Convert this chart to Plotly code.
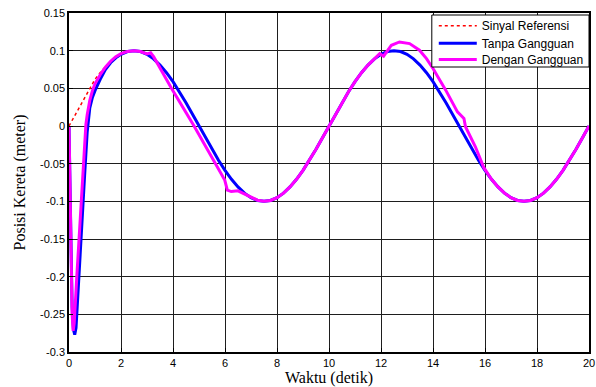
import plotly.graph_objects as go

# ---------------- data ----------------
x_ticks = [0, 2, 4, 6, 8, 10, 12, 14, 16, 18, 20]
x_tick_labels = ["0", "2", "4", "6", "8", "10", "12", "14", "16", "18", "20"]
y_ticks = [0.15, 0.1, 0.05, 0, -0.05, -0.1, -0.15, -0.2, -0.25, -0.3]
y_tick_labels = ["0.15", "0.1", "0.05", "0", "-0.05", "-0.1", "-0.15", "-0.2", "-0.25", "-0.3"]

names = ["Sinyal Referensi", "Tanpa Gangguan", "Dengan Gangguan"]

# Sinyal Referensi
t_ref = [0, 0.25, 0.5, 0.75, 1.0, 1.25, 1.5, 1.75, 2.0, 2.25, 2.5, 2.75, 3.0, 3.25, 3.5, 3.75,
         4.0, 4.25, 4.5, 4.75, 5.0, 5.25, 5.5, 5.75, 6.0, 6.25, 6.5, 6.75, 7.0, 7.25, 7.5, 7.75,
         8.0, 8.25, 8.5, 8.75, 9.0, 9.25, 9.5, 9.75, 10.0, 10.25, 10.5, 10.75, 11.0, 11.25, 11.5,
         11.75, 12.0, 12.25, 12.5, 12.75, 13.0, 13.25, 13.5, 13.75, 14.0, 14.25, 14.5, 14.75, 15.0,
         15.25, 15.5, 15.75, 16.0, 16.25, 16.5, 16.75, 17.0, 17.25, 17.5, 17.75, 18.0, 18.25, 18.5,
         18.75, 19.0, 19.25, 19.5, 19.75, 20.0]
y_ref = [0, 0.016, 0.032, 0.048, 0.062, 0.073, 0.082, 0.089, 0.0951, 0.0988, 0.1, 0.0988, 0.0951,
         0.0891, 0.0809, 0.0707, 0.0588, 0.0454, 0.0309, 0.0156, 0, -0.0156, -0.0309, -0.0454,
         -0.0588, -0.0707, -0.0809, -0.0891, -0.0951, -0.0988, -0.1, -0.0988, -0.0951, -0.0891,
         -0.0809, -0.0707, -0.0588, -0.0454, -0.0309, -0.0156, 0, 0.0156, 0.0309, 0.0454, 0.0588,
         0.0707, 0.0809, 0.0891, 0.0951, 0.0988, 0.1, 0.0988, 0.0951, 0.0891, 0.0809, 0.0707,
         0.0588, 0.0454, 0.0309, 0.0156, 0, -0.0156, -0.0309, -0.0454, -0.0588, -0.0707, -0.0809,
         -0.0891, -0.0951, -0.0988, -0.1, -0.0988, -0.0951, -0.0891, -0.0809, -0.0707, -0.0588,
         -0.0454, -0.0309, -0.0156, 0]

# Tanpa Gangguan
t_tanpa = [0, 0.04, 0.08, 0.12, 0.17, 0.22, 0.27, 0.3, 0.4, 0.5, 0.6, 0.7, 0.8, 0.9, 1.0, 1.2,
           1.4, 1.6, 1.8, 2.0, 2.25, 2.5, 2.75, 3.0, 3.25, 3.5, 3.75, 4.0, 4.25, 4.5, 4.75, 5.0,
           5.25, 5.5, 5.75, 6.0, 6.25, 6.5, 6.75, 7.0, 7.25, 7.5, 7.75, 8.0, 8.25, 8.5, 8.75, 9.0,
           9.25, 9.5, 9.75, 10.0, 10.25, 10.5, 10.75, 11.0, 11.25, 11.5, 11.75, 12.0, 12.25, 12.5,
           12.75, 13.0, 13.25, 13.5, 13.75, 14.0, 14.25, 14.5, 14.75, 15.0, 15.25, 15.5, 15.75,
           16.0, 16.25, 16.5, 16.75, 17.0, 17.25, 17.5, 17.75, 18.0, 18.25, 18.5, 18.75, 19.0,
           19.25, 19.5, 19.75, 20.0]
y_tanpa = [0, -0.09, -0.18, -0.24, -0.27, -0.277, -0.268, -0.248, -0.19, -0.128, -0.066, -0.008,
           0.024, 0.038, 0.047, 0.062, 0.075, 0.084, 0.0905, 0.0951, 0.0988, 0.1, 0.0988, 0.0951,
           0.0891, 0.0809, 0.0707, 0.0588, 0.0454, 0.0309, 0.0156, 0, -0.0156, -0.0309, -0.0454,
           -0.0588, -0.0707, -0.0809, -0.0891, -0.0951, -0.0988, -0.1, -0.0988, -0.0951, -0.0891,
           -0.0809, -0.0707, -0.0588, -0.0454, -0.0309, -0.0156, 0, 0.0156, 0.0309, 0.0454, 0.0588,
           0.0707, 0.0809, 0.0891, 0.0951, 0.0988, 0.1, 0.0988, 0.0951, 0.0891, 0.0809, 0.0707,
           0.0588, 0.0454, 0.0309, 0.0156, 0, -0.0156, -0.0309, -0.0454, -0.0588, -0.0707, -0.0809,
           -0.0891, -0.0951, -0.0988, -0.1, -0.0988, -0.0951, -0.0891, -0.0809, -0.0707, -0.0588,
           -0.0454, -0.0309, -0.0156, 0]

# Dengan Gangguan
t_dengan = [0, 0.04, 0.08, 0.12, 0.16, 0.2, 0.3, 0.4, 0.5, 0.6, 0.65, 0.7, 0.8, 0.9, 1.0, 1.2,
            1.4, 1.6, 1.8, 2.0, 2.25, 2.5, 2.75, 3.0, 3.14, 3.26, 3.5, 3.94, 4.81, 5.64, 5.99,
            6.09, 6.24, 6.5, 6.81, 7.0, 7.25, 7.5, 7.75, 8.0, 8.25, 8.5, 8.75, 9.0, 9.25, 9.5,
            9.75, 10.0, 10.25, 10.5, 10.75, 11.0, 11.25, 11.5, 11.75, 11.95, 12.1, 12.23, 12.4,
            12.71, 13.1, 13.48, 13.75, 14.0, 14.49, 14.94, 15.06, 15.19, 15.25, 15.63, 15.95,
            16.25, 16.5, 16.75, 17.0, 17.25, 17.5, 17.75, 18.0, 18.25, 18.5, 18.75, 19.0, 19.25,
            19.5, 19.75, 20.0]
y_dengan = [0, -0.1, -0.19, -0.25, -0.272, -0.262, -0.2, -0.138, -0.075, -0.014, 0.002, 0.015,
            0.034, 0.047, 0.056, 0.068, 0.078, 0.086, 0.092, 0.096, 0.099, 0.1, 0.0988, 0.0958,
            0.0972, 0.0917, 0.077, 0.05, 0.0, -0.05, -0.0717, -0.085, -0.087, -0.086, -0.0916,
            -0.095, -0.0985, -0.1, -0.0988, -0.0951, -0.0891, -0.0809, -0.0707, -0.0588, -0.0454,
            -0.0309, -0.0156, 0, 0.0156, 0.0309, 0.0454, 0.0588, 0.0707, 0.0809, 0.0891, 0.096,
            0.0926, 0.0983, 0.1072, 0.1116, 0.1094, 0.1006, 0.0895, 0.0763, 0.0476, 0.0188, 0.0144,
            0.0101, -0.001, -0.0276, -0.055, -0.0707, -0.0809, -0.0891, -0.0951, -0.0988, -0.1,
            -0.0988, -0.0951, -0.0891, -0.0809, -0.0707, -0.0588, -0.0454, -0.0309, -0.0156, 0]

# ---------------- figure ----------------
fig = go.Figure()
fig.add_trace(go.Scatter(x=t_ref, y=y_ref, mode="lines", name=names[0], legend="legend",
                         line=dict(color="#ff0000", width=1.5, dash="dot")))
fig.add_trace(go.Scatter(x=t_tanpa, y=y_tanpa, mode="lines", name=names[1], legend="legend2",
                         line=dict(color="#0000ff", width=3)))
fig.add_trace(go.Scatter(x=t_dengan, y=y_dengan, mode="lines", name=names[2], legend="legend3",
                         line=dict(color="#ff00ff", width=3)))

grid_col = "#1e1e1e"
axis_common = dict(showgrid=True, gridcolor=grid_col, gridwidth=1, zeroline=False,
                   showline=True, linecolor="black", linewidth=1.5, mirror=True,
                   ticks="inside", ticklen=4, tickcolor="black", ticklabeloverflow="allow",
                   tickfont=dict(family="Liberation Sans, Arial", size=11, color="black"))

fig.update_xaxes(range=[0, 20], tickvals=x_ticks, ticktext=x_tick_labels,
                 title=dict(text="Waktu (detik)", standoff=6,
                            font=dict(family="Liberation Serif, Times New Roman", size=16,
                                      color="black")),
                 **axis_common)
fig.update_yaxes(range=[-0.3, 0.15], tickvals=y_ticks, ticktext=y_tick_labels,
                 title=dict(text="Posisi Kereta (meter)", standoff=10,
                            font=dict(family="Liberation Serif, Times New Roman", size=16,
                                      color="black")),
                 **axis_common)

leg_common = dict(x=0.7015, xanchor="left", yanchor="middle", bgcolor="rgba(0,0,0,0)",
                  borderwidth=0, itemwidth=38,
                  font=dict(family="Liberation Sans, Arial", size=12, color="black"))

fig.update_layout(
    width=596, height=387,
    margin=dict(l=69, r=1, t=13, b=35),
    paper_bgcolor="white", plot_bgcolor="white",
    showlegend=True,
    legend=dict(y=0.9625, **leg_common),
    legend2=dict(y=0.9106, **leg_common),
    legend3=dict(y=0.8628, **leg_common),
    shapes=[dict(type="rect", xref="paper", yref="paper", x0=0.6977, x1=1.0,
                 y0=0.8407, y1=0.9941, line=dict(color="black", width=1),
                 fillcolor="white", layer="above")],
)

fig.write_html("out.html")
